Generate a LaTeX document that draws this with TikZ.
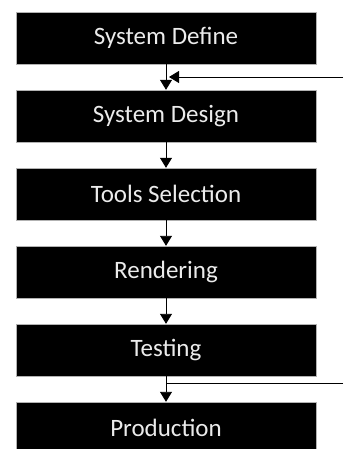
\documentclass[tikz,border=0pt]{standalone}
\usepackage{fontspec}
\setmainfont{Carlito}
\usepackage{tikz}
\usetikzlibrary{arrows.meta,positioning,calc}

\begin{document}
\begin{tikzpicture}
[
x=1pt, y=1pt,
stage/.style={rectangle, fill=black, draw=gray!60, text=white!92!black, minimum width=300pt, minimum height=52pt, inner sep=0pt, font=\fontsize{25}{29}\selectfont, node distance=25.6pt},
flow/.style={-{Triangle[width=12pt,length=10pt]}, line width=0.9pt},
back/.style={line width=0.9pt}
]
\useasboundingbox (0,0) rectangle (343,-449);
\clip (0,0) rectangle (343,-449);
%Nodes
\node[stage]      (define)                           at (166,-38)  {System Define};
\node[stage]      (design)     [below=of define]     {System Design};
\node[stage]      (tools)      [below=of design]     {Tools Selection};
\node[stage]      (render)     [below=of tools]      {Rendering};
\node[stage]      (testing)    [below=of render]     {Testing};
\node[stage]      (production) [below=of testing]    {Production};
\coordinate (retop)  at ($(define.south)!0.5!(design.north) + (177,0)$);
\coordinate (rebot)  at ($(testing.south)!0.3!(production.north) + (177,0)$);

%Lines
\path[flow]
(define)  edge   (design)
(design)  edge   (tools)
(tools)   edge   (render)
(render)  edge   (testing)
(testing) edge   (production);
\draw[flow] (retop) -- ($(define.south)!0.5!(design.north) + (3,0)$);
\draw[back] (rebot) -- ($(testing.south)!0.3!(production.north)$);
\end{tikzpicture}
\end{document}
